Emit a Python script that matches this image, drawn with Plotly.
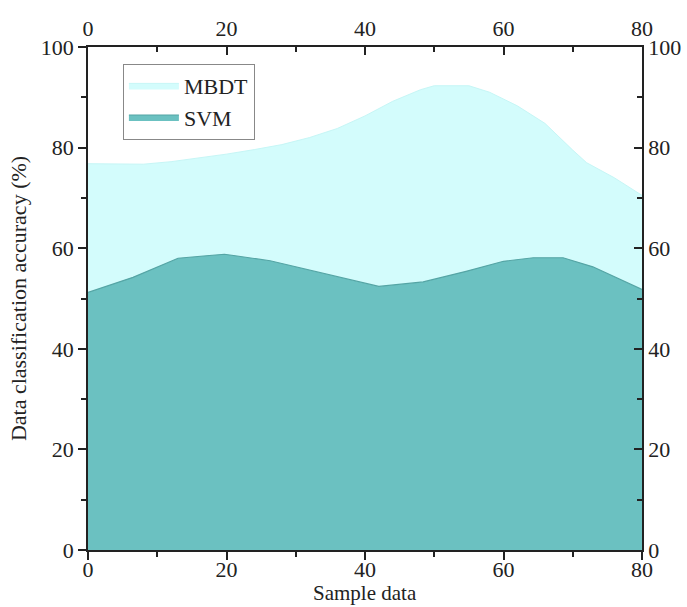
import plotly.graph_objects as go

mbdt_x = [0, 4, 8, 12, 16, 20, 24, 28, 32, 36, 40, 44, 48, 50, 55, 58, 62, 66, 70, 72, 76, 80]
mbdt_y = [76.8, 76.7, 76.7, 77.2, 77.9, 78.7, 79.6, 80.6, 82.0, 83.8, 86.3, 89.2, 91.5, 92.3, 92.3, 91.0, 88.3, 84.8, 79.5, 77.0, 74.0, 70.5]

svm_x = [0, 6.5, 13, 19.7, 26.3, 36, 42, 48.4, 54.6, 60, 64.3, 68.6, 72.9, 80]
svm_y = [51.2, 54.2, 58.0, 58.8, 57.5, 54.3, 52.4, 53.3, 55.4, 57.4, 58.1, 58.1, 56.3, 51.8]

x_ticks = [0, 20, 40, 60, 80]
y_ticks = [0, 20, 40, 60, 80, 100]

FONT = "Liberation Serif, Times New Roman, serif"

fig = go.Figure()
fig.add_trace(go.Scatter(x=mbdt_x, y=mbdt_y, name="MBDT", mode="lines",
                         fill="tozeroy", fillcolor="#d3fcfc",
                         line=dict(color="#c6f6f6", width=1)))
fig.add_trace(go.Scatter(x=svm_x, y=svm_y, name="SVM", mode="lines",
                         fill="tozeroy", fillcolor="#6bc1c1",
                         line=dict(color="#55a5a5", width=1.2)))
# invisible trace for top/right axes
fig.add_trace(go.Scatter(x=[0, 80], y=[0, 100], xaxis="x2", yaxis="y2",
                         mode="markers", marker=dict(opacity=0),
                         showlegend=False, hoverinfo="skip"))

axis_common = dict(showgrid=False, zeroline=False, showline=True,
                   linecolor="#222", linewidth=1.8, automargin=False,
                   tickcolor="#222", tickwidth=1.5,
                   tickfont=dict(family=FONT, size=22, color="#222"))

fig.update_layout(
    width=687, height=607,
    margin=dict(l=88, r=45, t=47, b=57),
    paper_bgcolor="white", plot_bgcolor="white",
    font=dict(family=FONT, color="#222"),
    xaxis=dict(range=[0, 80], tickvals=x_ticks, ticks="outside", ticklen=8,
               ticklabelstandoff=-9,
               minor=dict(tickvals=[10, 30, 50, 70], ticks="outside", ticklen=5,
                          tickcolor="#222", tickwidth=1.5),
               **axis_common),
    yaxis=dict(range=[0, 100], tickvals=y_ticks, ticks="outside", ticklen=8,
               minor=dict(tickvals=[10, 30, 50, 70, 90], ticks="outside", ticklen=5,
                          tickcolor="#222", tickwidth=1.5),
               title=dict(text="Data classification accuracy (%)", font=dict(family=FONT, size=22), standoff=8),
               **axis_common),
    xaxis2=dict(range=[0, 80], tickvals=x_ticks, overlaying="x", side="top",
                ticks="inside", ticklen=8, anchor="y",
                minor=dict(tickvals=[10, 30, 50, 70], ticks="inside", ticklen=5,
                           tickcolor="#222", tickwidth=1.5),
                **axis_common),
    yaxis2=dict(range=[0, 100], tickvals=y_ticks, overlaying="y", side="right",
                ticks="inside", ticklen=8, anchor="x",
                minor=dict(tickvals=[10, 30, 50, 70, 90], ticks="inside", ticklen=5,
                           tickcolor="#222", tickwidth=1.5),
                **axis_common),
    legend=dict(x=0.063, y=0.967, xanchor="left", yanchor="top",
                bgcolor="white", bordercolor="#888", borderwidth=1,
                font=dict(family=FONT, size=22, color="#222"),
                itemwidth=50, tracegroupgap=0),
    showlegend=True,
    annotations=[dict(text="Sample data", xref="paper", yref="paper",
                      x=0.5, y=0, xanchor="center", yanchor="middle",
                      yshift=-43, showarrow=False,
                      font=dict(family=FONT, size=21, color="#222"))],
)

fig.write_html("out.html")
